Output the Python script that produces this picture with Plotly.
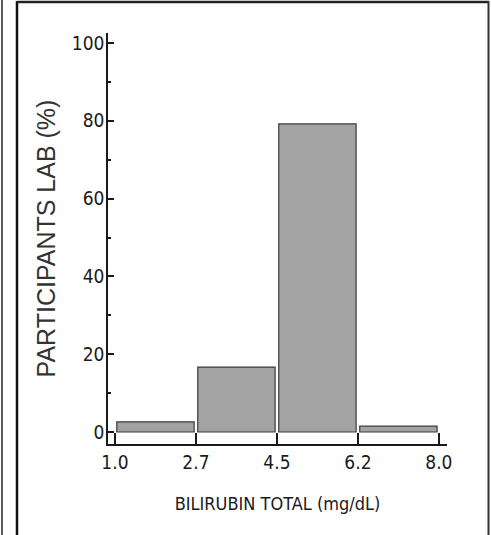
import plotly.graph_objects as go

bin_edges = ["1.0", "2.7", "4.5", "6.2", "8.0"]
percent_lab = [2.6, 16.7, 79.2, 1.5]
y_ticks = [0, 20, 40, 60, 80, 100]

W, H = 491, 535
L, R, T, B = 108, 44, 33, 91
pw, ph = W - L - R, H - T - B

def px(x):
    return (x - L) / pw

def py(y):
    return (H - B - y) / ph

centers = [i + 0.5 for i in range(len(percent_lab))]

fig = go.Figure()
fig.add_trace(go.Bar(
    x=centers, y=percent_lab, width=0.955,
    marker=dict(color="#a3a3a3", line=dict(color="#3a3a3a", width=1.2)),
    hoverinfo="skip",
))

narrow = "DejaVu Sans Condensed, Liberation Sans Narrow, Arial Narrow, sans-serif"
tickfont = dict(family=narrow, size=19, color="#1a1a1a")

fig.update_layout(
    width=W, height=H,
    margin=dict(l=L, r=R, t=T, b=B),
    paper_bgcolor="white", plot_bgcolor="white",
    showlegend=False,
    xaxis=dict(
        range=[-0.086, 4.1],
        tickvals=list(range(len(bin_edges))), ticktext=bin_edges,
        ticks="inside", ticklen=11, tickwidth=1.5, tickcolor="#1a1a1a",
        showline=True, linecolor="#1a1a1a", linewidth=2,
        showgrid=False, zeroline=False,
        tickfont=tickfont,
        title=dict(text="BILIRUBIN TOTAL (mg/dL)", standoff=26,
                   font=dict(family=narrow, size=18, color="#1a1a1a")),
    ),
    yaxis=dict(
        range=[-3.08, 102.57],
        tickvals=y_ticks,
        ticks="inside", ticklen=6, tickwidth=1.5, tickcolor="#1a1a1a",
        ticklabelstandoff=-2,
        minor=dict(tickvals=[10, 30, 50, 70, 90], ticks="inside", ticklen=3, tickcolor="#1a1a1a"),
        showline=True, linecolor="#1a1a1a", linewidth=1.5,
        showgrid=False, zeroline=False,
        tickfont=tickfont,
        title=dict(text="PARTICIPANTS LAB (%)", standoff=9,
                   font=dict(family="Liberation Sans, Arial", size=25, color="#333")),
    ),
    shapes=[
        dict(type="line", xref="paper", yref="paper", x0=px(2), x1=px(2), y0=py(0), y1=py(H), line=dict(color="#222", width=1.5)),
        dict(type="line", xref="paper", yref="paper", x0=px(17), x1=px(17), y0=py(1), y1=py(H), line=dict(color="#111", width=2.5)),
        dict(type="line", xref="paper", yref="paper", x0=px(17), x1=px(489), y0=py(2), y1=py(2), line=dict(color="#222", width=2.5)),
        dict(type="line", xref="paper", yref="paper", x0=px(488.5), x1=px(488.5), y0=py(1), y1=py(H), line=dict(color="#333", width=2)),
    ],
)

fig.write_html("out.html", config={"displayModeBar": False},
               post_script="document.body.style.margin='0';document.body.style.overflow='hidden';")
